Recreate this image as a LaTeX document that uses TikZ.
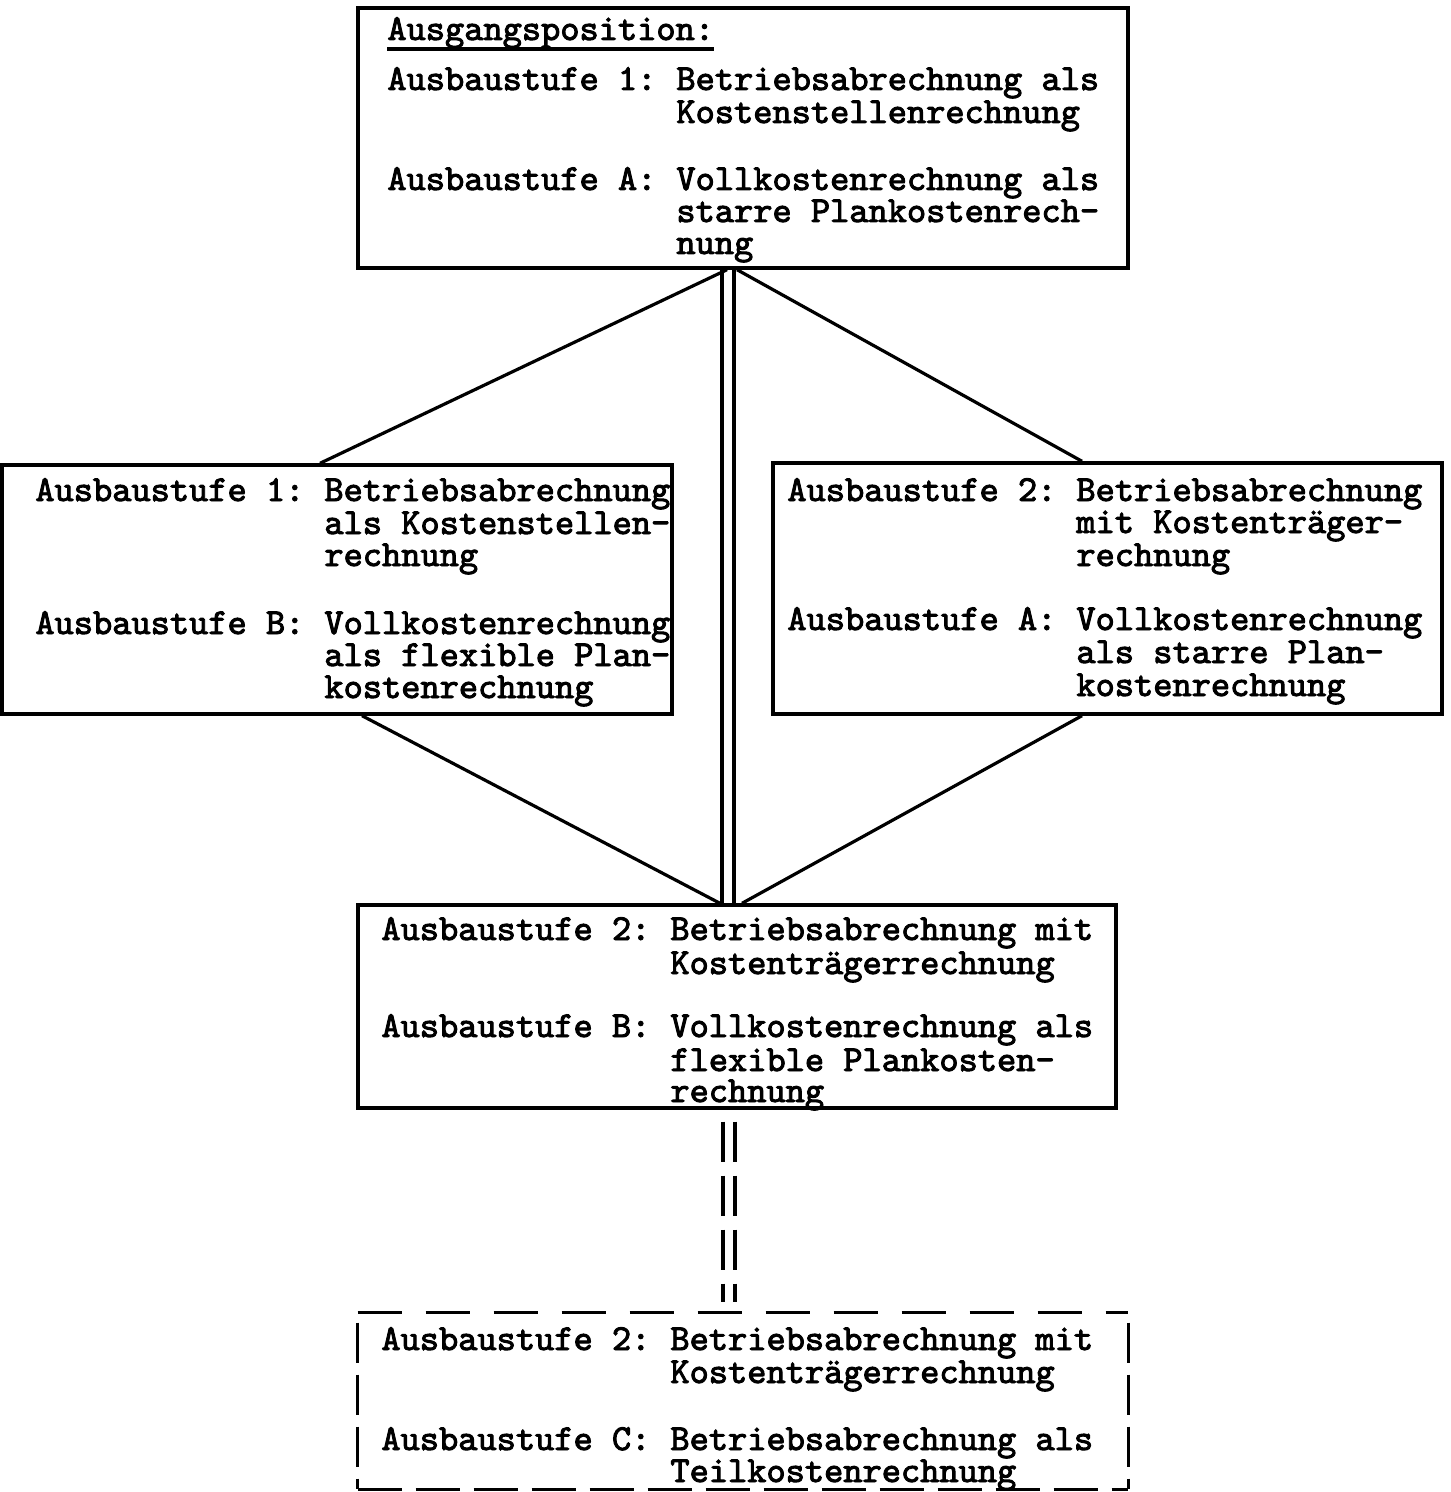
\documentclass[tikz,border=0pt]{standalone}
\usepackage{fontspec}
\newfontfamily\twfont{lmmono10-regular.otf}[FakeBold=2.6]
\usetikzlibrary{fit}
\tikzset{
  box/.style={draw, line width=1.7pt, inner sep=0pt},
  ln/.style={line width=1.6pt},
  lab/.style={anchor=base west, inner sep=0pt, font=\twfont\fontsize{18.3pt}{18.3pt}\selectfont},
  dashln/.style={line width=1.6pt, dash pattern=on 20pt off 7pt},
}
\begin{document}
\begin{tikzpicture}[x=0.5pt,y=-0.5pt]
\useasboundingbox (0,0) rectangle (1450,1492);
% boxes
\node[box, fit={(358,8)(1128,268)}] (top) {};
\node[box, fit={(2,465)(672,714)}] (lft) {};
\node[box, fit={(773,463)(1442,714)}] (rgt) {};
\node[box, fit={(358,905)(1116,1108)}] (mid) {};
\node[inner sep=0pt, fit={(358,1313)(1128,1489)}] (bot) {};
\draw[ln, dash pattern=on 22pt off 12pt] (bot.north west) -- (bot.north east);
\draw[ln, dash pattern=on 22pt off 7pt] (bot.south west) -- (bot.south east);
\draw[ln, dash pattern=on 20pt off 6pt, dash phase=-5pt] (bot.north west) -- (bot.south west);
\draw[ln, dash pattern=on 20pt off 6pt, dash phase=-5pt] (bot.north east) -- (bot.south east);
% top box text
\node[lab] (h0) at (387,40) {Ausgangsposition:};
\draw[line width=1.7pt] ([yshift=-4.5pt]h0.base west) -- ([yshift=-4.5pt]h0.base east);
\node[lab] (t1a) at (387,90) {Ausbaustufe 1:};
\node[lab] (t1b) at (676,90) {Betriebsabrechnung als};
\node[lab] (t1c) at (676,123) {Kostenstellenrechnung};
\node[lab] (t2a) at (387,190) {Ausbaustufe A:};
\node[lab] (t2b) at (676,190) {Vollkostenrechnung als};
\node[lab] (t2c) at (676,222) {starre Plankostenrech-};
\node[lab] (t2d) at (676,254) {nung};
% left box text
\node[lab] (l1a) at (35,501) {Ausbaustufe 1:};
\node[lab] (l1b) at (324,501) {Betriebsabrechnung};
\node[lab] (l1c) at (324,534) {als Kostenstellen-};
\node[lab] (l1d) at (324,566) {rechnung};
\node[lab] (l2a) at (35,634) {Ausbaustufe B:};
\node[lab] (l2b) at (324,634) {Vollkostenrechnung};
\node[lab] (l2c) at (324,666) {als flexible Plan-};
\node[lab] (l2d) at (324,698) {kostenrechnung};
% right box text
\node[lab] (r1a) at (787,501) {Ausbaustufe 2:};
\node[lab] (r1b) at (1076,501) {Betriebsabrechnung};
\node[lab] (r1c) at (1076,533) {mit Kostenträger-};
\node[lab] (r1d) at (1076,566) {rechnung};
\node[lab] (r2a) at (787,630) {Ausbaustufe A:};
\node[lab] (r2b) at (1076,630) {Vollkostenrechnung};
\node[lab] (r2c) at (1076,663) {als starre Plan-};
\node[lab] (r2d) at (1076,696) {kostenrechnung};
% middle box text
\node[lab] (m1a) at (381,940) {Ausbaustufe 2:};
\node[lab] (m1b) at (670,940) {Betriebsabrechnung mit};
\node[lab] (m1c) at (670,974) {Kostenträgerrechnung};
\node[lab] (m2a) at (381,1037) {Ausbaustufe B:};
\node[lab] (m2b) at (670,1037) {Vollkostenrechnung als};
\node[lab] (m2c) at (670,1071) {flexible Plankosten-};
\node[lab] (m2d) at (670,1102) {rechnung};
% bottom box text
\node[lab] (b1a) at (381,1350) {Ausbaustufe 2:};
\node[lab] (b1b) at (670,1350) {Betriebsabrechnung mit};
\node[lab] (b1c) at (670,1383) {Kostenträgerrechnung};
\node[lab] (b2a) at (381,1450) {Ausbaustufe C:};
\node[lab] (b2b) at (670,1450) {Betriebsabrechnung als};
\node[lab] (b2c) at (670,1482) {Teilkostenrechnung};
% connectors
\draw[ln] ([xshift=-8pt]top.south) -- ([xshift=-8.5pt]lft.north);
\draw[ln] ([xshift=-3pt]top.south) -- ([xshift=-12.75pt]rgt.north);
\draw[ln] ([xshift=-10.5pt]top.south) -- ([xshift=-7.5pt]mid.north);
\draw[ln] ([xshift=-4.5pt]top.south) -- ([xshift=-1.5pt]mid.north);
\draw[ln] ([xshift=12.5pt]lft.south) -- ([xshift=-8.5pt]mid.north);
\draw[ln] ([xshift=-12.75pt]rgt.south) -- ([xshift=2.5pt]mid.north);
\draw[dashln, shorten <=6pt, shorten >=5.5pt] ([xshift=-7pt]mid.south) -- ([xshift=-10pt]bot.north);
\draw[dashln, shorten <=6pt, shorten >=5.5pt] ([xshift=-1pt]mid.south) -- ([xshift=-4pt]bot.north);
\end{tikzpicture}
\end{document}
